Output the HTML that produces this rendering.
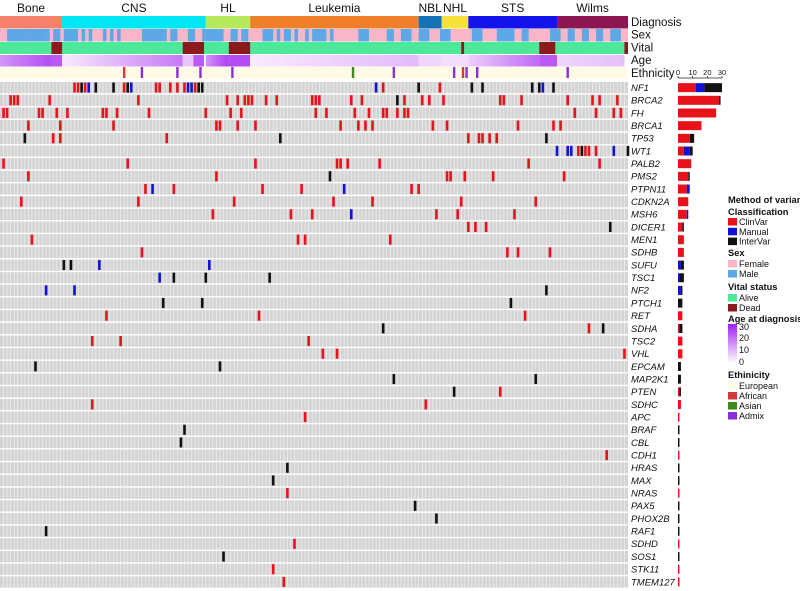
<!DOCTYPE html>
<html><head><meta charset="utf-8"><style>
html,body{margin:0;padding:0;background:#fff}
svg{display:block;font-family:"Liberation Sans",Arial,sans-serif}
</style></head><body>
<svg id="c" width="800" height="591" viewBox="0 0 800 591"></svg>
<script>
const genes=["NF1","BRCA2","FH","BRCA1","TP53","WT1","PALB2","PMS2","PTPN11","CDKN2A","MSH6","DICER1","MEN1","SDHB","SUFU","TSC1","NF2","PTCH1","RET","SDHA","TSC2","VHL","EPCAM","MAP2K1","PTEN","SDHC","APC","BRAF","CBL","CDH1","HRAS","MAX","NRAS","PAX5","PHOX2B","RAF1","SDHD","SOS1","STK11","TMEM127"];
const muts=[
"21r 22r 23k 24r 25b 27k 32k 35r 36k 37b 44r 45r 48r 50r 52r 53b 54b 55r 56k 57k 106b 108r 118k 124r 133k 136k 150k 152k 153b 156k",
"3r 4r 5r 14r 39r 64r 67r 69r 70r 71r 75r 78r 88r 89r 90r 99r 102r 112k 114r 119r 121r 125r 141r 142r 147r 160r 167r 169r 174r",
"1r 2r 11r 12r 16r 19r 29r 30r 33r 42r 58r 65r 68r 89r 92r 100r 104r 108r 109r 112r 114r 115r 162r 168r 173r 175r",
"8r 17r 32r 61r 62r 67r 72r 96r 101r 103r 105r 122r 126r 146r 156r 158r",
"7k 15r 17r 47r 79k 132r 135r 136r 138r 140r 154k",
"157b 160b 161b 163r 164k 165r 166r 168r 173b 177k",
"1r 36r 72r 95r 96r 98r 107r 149r 169r",
"8r 61r 93k 126r 127r 131r 139r 159r",
"41r 43b 49r 74r 85r 97b 116r 118r",
"6r 39r 66r 94r 105r 130r 151r",
"60r 82r 88r 99b 123r 129r 145r",
"132r 134r 137r 172k",
"9r 84r 86r 110r",
"40r 143r 146r 155r",
"18k 20k 28b 59b",
"45b 49k 58k 76k",
"13b 21b 154k",
"46k 57k 144k",
"30r 73r 148r",
"108k 166r 170k",
"26r 34r 87r",
"91r 95r 176r",
"10k 62k",
"111k 151k",
"128k 141r",
"26r 120r",
"86r","52k","51k","171r","81k","77k","81r","117k","123k","13k","83r","63k","77r","80r"];
const diagNames=["Bone","CNS","HL","Leukemia","NBL","NHL","STS","Wilms"];
const diagStart=[0,17.5,58,70.5,118,124.5,132,157];
const diagColors=["#f4806e","#00e6f2","#b6e85c","#f07f2a","#1672b4","#f6e23a","#1414ea","#8c1652"];
const maleRanges=[[2,7],[8,8],[9,12],[13,13],[15,16],[18,19],[20,20],[21,21],[23,23],[25,25],[29,29],[31,31],[33,33],[40,46],[48,48],[49,49],[53,54],[57,57],[58,62],[65,66],[68,69],[74,76],[78,78],[80,81],[83,83],[86,86],[88,91],[93,93],[101,103],[109,110],[113,115],[118,120],[124,126],[133,135],[140,144],[147,148],[155,157],[160,161],[164,165],[168,169],[172,174]];
const deadRanges=[[14.5,17.5],[51.5,57.5],[64.5,70.5],[130,130.8],[152,156.5],[176,177]];
const ageSegs=[[0,14.5,14,24],[14.5,17.5,22,22],[17.5,51.5,2,18],[51.5,54.5,7,7],[54.5,57.5,22,22],[58,64.5,14,26],[64.5,70.5,24,24],[70.5,118,2,9],[118,124.5,5,5],[124.5,132,4,4],[132,152,6,20],[152,157,22,22],[157,176,5,8]];
const ethCols=[35,40,50,56.5,65.5,99.5,111,128,130.5,131.5,134.5,160];
const ethType=["Af","Ad","Ad","Ad","Ad","As","Ad","Ad","Af","Ad","Ad","Ad"];
const tickVals=[0,10,20,30];

const NS="http://www.w3.org/2000/svg";
const svg=document.getElementById('c');
function mk(tag,attrs,parent){const e=document.createElementNS(NS,tag);for(const k in attrs)e.setAttribute(k,attrs[k]);(parent||svg).appendChild(e);return e;}
const NCOL=177, GW=628, CW=GW/NCOL, GT=81.3, RH=12.675;
const xc=c=>c*CW;
const colors={r:"#e8121a",b:"#1212d6",k:"#111111"};
const ageColor=a=>{const t=Math.min(1,a/30);const r=Math.round(255+(160-255)*t),g=Math.round(250+(32-250)*t),b=Math.round(255+(240-255)*t);return `rgb(${r},${g},${b})`;};

for(let i=0;i<diagNames.length;i++){
  const x0=xc(diagStart[i]),x1=i<diagNames.length-1?xc(diagStart[i+1]):GW;
  const r=mk('rect',{x:x0,y:16,width:x1-x0,height:12.5,fill:diagColors[i]});
  
  
  const t=mk('text',{x:(x0+x1)/2,y:12,'font-size':12,'text-anchor':'middle',fill:'#111'});t.textContent=diagNames[i];
  
  
}
const sexBg=mk('rect',{x:0,y:29,width:GW,height:12.5,fill:'#f7b7c8'});


maleRanges.forEach(m=>{const r=mk('rect',{x:xc(m[0]),y:29,width:(m[1]-m[0]+1)*CW,height:12.5,fill:'#5ea8e8'});
  
  });
const vBg=mk('rect',{x:0,y:42,width:GW,height:12,fill:'#4ee89a'});


deadRanges.forEach(d=>{const r=mk('rect',{x:xc(d[0]),y:42,width:(d[1]-d[0])*CW,height:12,fill:'#8c1a1c'});
  
  });
const defs=mk('defs',{});
ageSegs.forEach((s,i)=>{
  const g=mk('linearGradient',{id:'ag'+i,x1:0,x2:1,y1:0,y2:0},defs);
  mk('stop',{offset:0,'stop-color':ageColor(s[2])},g);mk('stop',{offset:1,'stop-color':ageColor(s[3])},g);
  const r=mk('rect',{x:xc(s[0]),y:55,width:(s[1]-s[0])*CW,height:11.5,fill:`url(#ag${i})`});
  
  
});
const eBg=mk('rect',{x:0,y:67,width:GW,height:12,fill:'#fffbe6'});


const ethC={Af:"#d03a3a",As:"#3d8a1a",Ad:"#8a30d8"};
ethCols.forEach((c,i)=>{const r=mk('rect',{x:xc(c)-1.2,y:67,width:2.4,height:11,fill:ethC[ethType[i]]});
  
  });
["Diagnosis","Sex","Vital","Age","Ethnicity"].forEach((n,i)=>{const t=mk('text',{x:631,y:26+i*12.7,'font-size':11.5,fill:'#111'});t.textContent=n;
  
  });

const gridBg=mk('rect',{x:0,y:GT,width:GW,height:RH*genes.length,fill:'#d4d4d4'});


for(let c=1;c<NCOL;c++) mk('line',{x1:c*CW,x2:c*CW,y1:GT,y2:GT+RH*genes.length,stroke:'#f0f0f0','stroke-width':0.7});
for(let r=0;r<=genes.length;r++) mk('line',{x1:0,x2:GW,y1:GT+r*RH,y2:GT+r*RH,stroke:'#fff','stroke-width':1.4});

const bx0=678, bScale=44/30;
const ax=mk('line',{x1:bx0,x2:bx0+30*bScale,y1:78,y2:78,stroke:'#222','stroke-width':0.8});


tickVals.forEach(v=>{mk('line',{x1:bx0+v*bScale,x2:bx0+v*bScale,y1:76,y2:78,stroke:'#222','stroke-width':0.8});
  const t=mk('text',{x:bx0+v*bScale,y:75,'font-size':7.5,'text-anchor':'middle',fill:'#111'});t.textContent=v;
  
  });

genes.forEach((g,i)=>{
  const y0=GT+i*RH, cy=y0+RH/2;
  const cnt={r:0,b:0,k:0};
  muts[i].split(' ').forEach(s=>{
    const c=parseFloat(s),t=s.slice(-1);cnt[t]++;
    const r=mk('rect',{x:xc(c)-1.3,y:y0+1.2,width:2.6,height:RH-2.6,fill:colors[t]});
    
    
  });
  const t=mk('text',{x:631,y:cy+3.3,'font-size':9.5,'font-style':'italic',fill:'#111'});t.textContent=g;
  
  
  let x=bx0;
  ['r','b','k'].forEach(k=>{if(!cnt[k])return;const w=cnt[k]*bScale;
    const b=mk('rect',{x:x,y:cy-4.5,width:w,height:9,fill:colors[k]});
    
    
    x+=w;});
});

function txt(s,x,y,opt){const t=mk('text',Object.assign({x:x,y:y,'font-size':9,fill:'#111'},opt||{}));t.textContent=s;return t;}
function box(x,y,fill){return mk('rect',{x:x,y:y,width:9,height:7.5,fill:fill});}
const B={'font-weight':'bold','font-size':9.3};
const TX=739;
let t=txt("Method of variant",728,203,B);
txt("Classification",728,215,B);
[["ClinVar","#e8121a"],["Manual","#1212d6"],["InterVar","#111"]].forEach((e,i)=>{const b=box(728,218+i*9.8,e[1]);txt(e[0],TX,225+i*9.8);});
txt("Sex",728,256,B);
[["Female","#f7b7c8"],["Male","#5ea8e8"]].forEach((e,i)=>{const b=box(728,260+i*10,e[1]);txt(e[0],TX,267+i*10);});
txt("Vital status",728,290,B);
[["Alive","#4ee89a"],["Dead","#8c1a1c"]].forEach((e,i)=>{const b=box(728,294+i*10,e[1]);txt(e[0],TX,301+i*10);});
txt("Age at diagnosis",728,322,B);
const lg=mk('linearGradient',{id:'agL',x1:0,x2:0,y1:0,y2:1},defs);
mk('stop',{offset:0,'stop-color':ageColor(30)},lg);mk('stop',{offset:1,'stop-color':'#ffffff'},lg);
const gb=mk('rect',{x:728,y:324,width:9,height:39,fill:'url(#agL)'});
[["30",330],["20",341],["10",353],["0",365]].forEach(e=>{txt(e[0],TX,e[1]);});
txt("Ethinicity",728,378,B);
[["European","#fffbe6"],["African","#d03a3a"],["Asian","#3d8a1a"],["Admix","#8a30d8"]].forEach((e,i)=>{const b=box(728,382+i*10,e[1]);txt(e[0],TX,389+i*10);});
</script>
</body></html>
